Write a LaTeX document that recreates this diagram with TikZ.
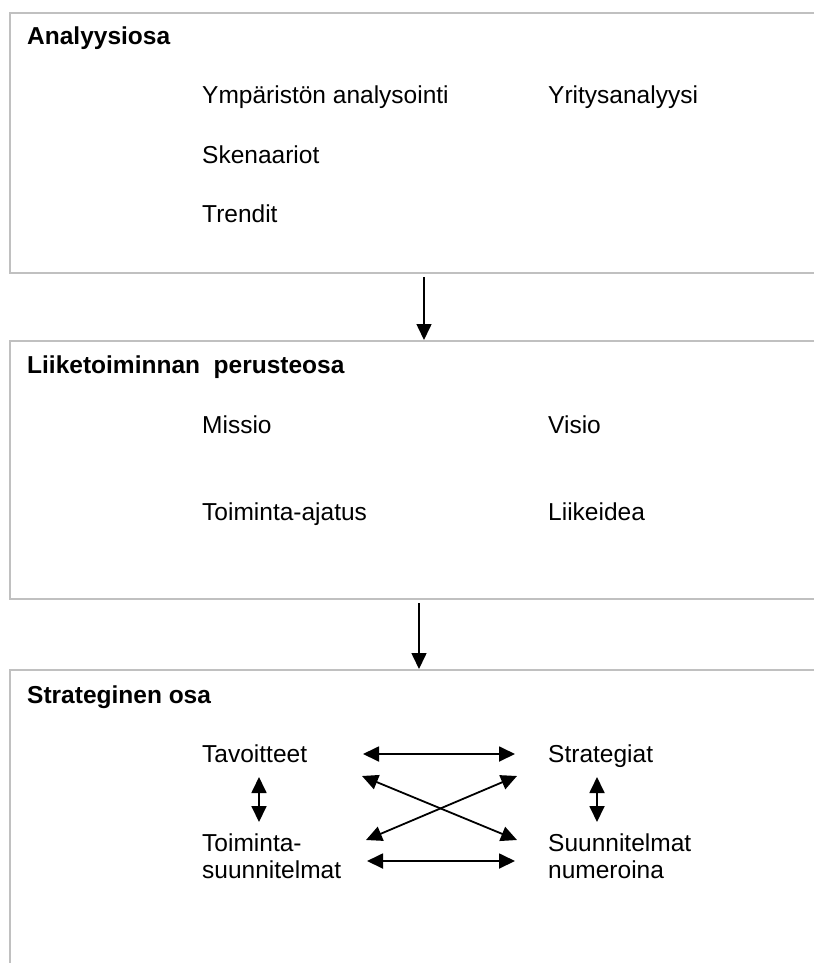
\documentclass[tikz,border=0pt]{standalone}
\usepackage{fontspec}
\setmainfont{Liberation Sans}
\usetikzlibrary{arrows.meta}
\definecolor{boxgray}{RGB}{192,192,192}
\tikzset{
  boxline/.style={draw=boxgray, line width=2pt},
  txt/.style={inner sep=0pt, anchor=base west, font=\fontsize{24.5}{27}\selectfont},
  two/.style={inner sep=0pt, anchor=north west, align=left, font=\fontsize{24.5}{26.5}\selectfont},
  ttl/.style={inner sep=0pt, anchor=base west, font=\fontsize{24.5}{27}\selectfont\bfseries},
  tip/.tip={Triangle[length=16pt,width=15pt]},
  flow/.style={line width=1.6pt, -tip},
  both/.style={line width=1.8pt, tip-tip}
}
\begin{document}
\begin{tikzpicture}[x=1pt,y=-1pt]
\useasboundingbox[fill=white] (0,0) rectangle (814,963);
% boxes (open on the right)
\draw[boxline] (814,13) -- (10,13) -- (10,273) -- (814,273);
\draw[boxline] (814,341) -- (10,341) -- (10,599) -- (814,599);
\draw[boxline] (814,670) -- (10,670) -- (10,963);
% box 1
\node[ttl] (t1) at (27,45) {Analyysiosa};
\node[txt] (ymp) at (202,103) {Ympäristön analysointi};
\node[txt] (yri) at (548,103) {Yritysanalyysi};
\node[txt] (ske) at (202,163) {Skenaariot};
\node[txt] (tre) at (202,222) {Trendit};
% box 2
\node[ttl] (t2) at (27,373) {Liiketoiminnan\ \ perusteosa};
\node[txt] (mis) at (202,433) {Missio};
\node[txt] (vis) at (548,433) {Visio};
\node[txt] (toa) at (202,520) {Toiminta-ajatus};
\node[txt] (lii) at (548,520) {Liikeidea};
% box 3
\node[ttl] (t3) at (27,703) {Strateginen osa};
\node[txt] (tav) at (202,762) {Tavoitteet};
\node[txt] (str) at (548,762) {Strategiat};
\node[two] (tsu) at (202,834) {Toiminta-\\suunnitelmat};
\node[two] (snu) at (548,834) {Suunnitelmat\\numeroina};
% flow arrows between boxes
\coordinate (a1s) at (424,277);
\coordinate (a1e) at (424,340);
\coordinate (a2s) at (419,603);
\coordinate (a2e) at (419,669);
\draw[flow] (a1s) -- (a1e);
\draw[flow] (a2s) -- (a2e);
% strategic arrows
\coordinate (h1l) at (363,754);
\coordinate (h1r) at (515,754);
\coordinate (h2l) at (367,861);
\coordinate (h2r) at (515,861);
\coordinate (d1a) at (362,776);
\coordinate (d1b) at (517,840);
\coordinate (d2a) at (366,840);
\coordinate (d2b) at (517,776);
\coordinate (v1a) at (259,777);
\coordinate (v1b) at (259,822);
\coordinate (v2a) at (597,777);
\coordinate (v2b) at (597,822);
\draw[both] (h1l) -- (h1r);
\draw[both] (h2l) -- (h2r);
\draw[both] (d1a) -- (d1b);
\draw[both] (d2a) -- (d2b);
\draw[both] (v1a) -- (v1b);
\draw[both] (v2a) -- (v2b);
\end{tikzpicture}
\end{document}
